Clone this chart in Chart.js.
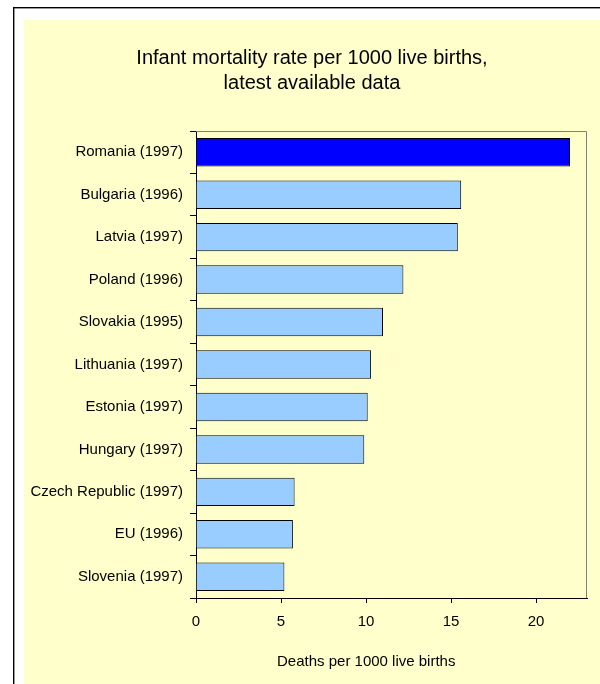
<!DOCTYPE html>
<html>
<head>
<meta charset="utf-8">
<script src="https://cdn.jsdelivr.net/npm/chart.js@4/dist/chart.umd.min.js"></script>
<style>
  html, body { margin: 0; padding: 0; background: #ffffff; }
  canvas { display: block; }
</style>
</head>
<body>
<canvas id="c" width="600" height="684"></canvas>
<script>
// ---- data ----
const categories = [
  'Romania (1997)', 'Bulgaria (1996)', 'Latvia (1997)', 'Poland (1996)',
  'Slovakia (1995)', 'Lithuania (1997)', 'Estonia (1997)', 'Hungary (1997)',
  'Czech Republic (1997)', 'EU (1996)', 'Slovenia (1997)'
];
const deathsPer1000 = [22.0, 15.6, 15.4, 12.2, 11.0, 10.3, 10.1, 9.9, 5.8, 5.7, 5.2];
const xTickValues = [0, 5, 10, 15, 20];
const titleLines = ['Infant mortality rate per 1000 live births,', 'latest available data'];
const xAxisTitle = 'Deaths per 1000 live births';

const FONT = "'Liberation Sans', Arial, Helvetica, sans-serif";

const frame = {
  id: 'frame',
  beforeDraw(chart) {
    const c = chart.ctx;
    c.save();
    c.fillStyle = '#ffffff';
    c.fillRect(0, 0, chart.width, chart.height);
    c.fillStyle = '#FFFFCC';
    c.fillRect(24, 20, chart.width - 24, chart.height - 20);
    c.fillStyle = '#000000';
    c.fillRect(13, 7, chart.width - 13, 1.4);
    c.fillRect(13, 7, 1.4, chart.height - 7);
    c.restore();
  },
  beforeDatasetsDraw(chart) {
    const a = chart.chartArea, c = chart.ctx;
    c.save();
    c.strokeStyle = '#808080';
    c.lineWidth = 1;
    c.beginPath();
    c.moveTo(a.left, a.top + 0.5);
    c.lineTo(a.right - 0.5, a.top + 0.5);
    c.lineTo(a.right - 0.5, a.bottom);
    c.stroke();
    c.restore();
  },
  afterDraw(chart) {
    const c = chart.ctx;
    c.save();
    c.fillStyle = '#000000';
    c.textAlign = 'center';
    c.textBaseline = 'middle';
    c.font = '20px ' + FONT;
    c.fillText(titleLines[0], 312, 58);
    c.fillText(titleLines[1], 312, 83);
    c.font = '15px ' + FONT;
    c.textAlign = 'left';
    c.fillText(xAxisTitle, 277, 662);
    c.restore();
  }
};

new Chart(document.getElementById('c'), {
  type: 'bar',
  data: {
    labels: categories,
    datasets: [{
      data: deathsPer1000,
      backgroundColor: (ctx) => ctx.dataIndex === 0 ? '#0000FF' : '#99CCFF',
      borderColor: '#000000',
      borderWidth: 1,
      borderSkipped: 'start',
      categoryPercentage: 1.0,
      barPercentage: 0.67
    }]
  },
  options: {
    indexAxis: 'y',
    responsive: false,
    devicePixelRatio: 1,
    animation: false,
    layout: { padding: { top: 131, right: 13, left: 0, bottom: 0 } },
    plugins: {
      legend: { display: false },
      title: { display: false },
      tooltip: { enabled: false }
    },
    scales: {
      x: {
        type: 'linear',
        min: 0,
        max: 23,
        afterFit(scale) { scale.height = 86; },
        afterBuildTicks(scale) { scale.ticks = xTickValues.map(v => ({ value: v })); },
        ticks: {
          font: { family: FONT, size: 15 },
          color: '#000000',
          padding: 10,
          maxRotation: 0
        },
        grid: {
          drawOnChartArea: false,
          drawTicks: true,
          tickLength: 5,
          color: '#000000'
        },
        border: { display: true, color: '#000000', width: 1 }
      },
      y: {
        afterFit(scale) { scale.width = 196; },
        ticks: {
          font: { family: FONT, size: 15 },
          color: '#000000',
          padding: 7
        },
        grid: {
          drawOnChartArea: false,
          drawTicks: true,
          tickLength: 6,
          color: '#000000',
          offset: true
        },
        border: { display: true, color: '#000000', width: 1 }
      }
    }
  },
  plugins: [frame]
});
</script>
</body>
</html>
